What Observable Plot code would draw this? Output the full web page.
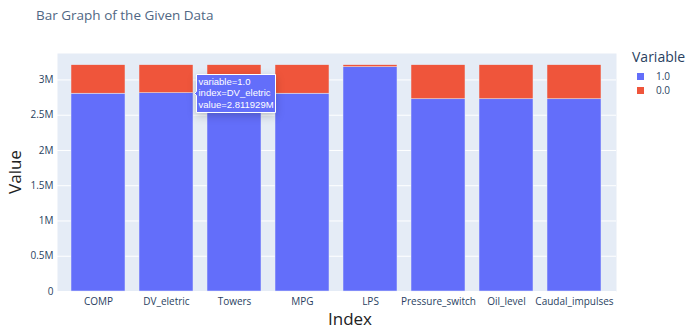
<!DOCTYPE html>
<html>
<head>
<meta charset="utf-8">
<script src="https://cdn.jsdelivr.net/npm/d3@7"></script>
<script src="https://cdn.jsdelivr.net/npm/@observablehq/plot@0.6"></script>
<style>
  html, body { margin: 0; padding: 0; background: #fff; }
  #wrap { position: relative; width: 692px; height: 332px; font-family: "Open Sans", sans-serif; color: #2a3f5f; }
  #wrap svg { position: absolute; left: 0; top: 0; }
  .ov { position: absolute; white-space: nowrap; }
  #title { left: 36px; top: 6px; font-size: 13.5px; color: #506784; }
  #ylab { left: 14px; top: 172px; font-size: 17px; transform: translate(-50%, -50%) rotate(-90deg); color: #222; }
  #xlab { left: 350px; top: 318px; font-size: 17px; transform: translate(-50%, -50%); color: #222; }
  #legend { left: 632px; top: 47px; }
  #legend .lt { font-size: 14px; color: #2a3f5f; margin-bottom: 3px; }
  #legend .it { display: flex; align-items: center; font-size: 10px; height: 14px; margin-left: 5px; }
  #legend .sw { width: 7px; height: 7px; margin-right: 12px; }
  g[aria-label="tip"] text, g[aria-label="tip"] tspan { fill: white; }
</style>
</head>
<body>
<div id="wrap">
  <div id="plot"></div>
  <div class="ov" id="title">Bar Graph of the Given Data</div>
  <div class="ov" id="ylab">Value</div>
  <div class="ov" id="xlab">Index</div>
  <div class="ov" id="legend"></div>
</div>
<script>
const categories = ["COMP", "DV_eletric", "Towers", "MPG", "LPS", "Pressure_switch", "Oil_level", "Caudal_impulses"];
const values1 = [2805000, 2811929, 2810000, 2805000, 3180000, 2726000, 2726000, 2726000];
const values0 = [404000, 397071, 399000, 404000, 29000, 483000, 483000, 483000];
const variables = ["1.0", "0.0"];
const colors = ["#636efa", "#EF553B"];
const yTicks = [0, 500000, 1000000, 1500000, 2000000, 2500000, 3000000];
const yTickLabels = ["0", "0.5M", "1M", "1.5M", "2M", "2.5M", "3M"];
const yMax = 3375000;
const tipVariable = "1.0";
const tipIndex = "DV_eletric";

const rows = [];
categories.forEach((c, i) => {
  rows.push({index: c, variable: variables[0], value: values1[i]});
  rows.push({index: c, variable: variables[1], value: values0[i]});
});
const tipRow = rows.find(r => r.index === tipIndex && r.variable === tipVariable);
const fmtM = v => (v / 1e6).toString() + "M";

const chart = Plot.plot({
  width: 692,
  height: 332,
  marginLeft: 57,
  marginRight: 76,
  marginTop: 53,
  marginBottom: 41,
  style: {fontFamily: "Open Sans, sans-serif", fontSize: "10px", color: "#2a3f5f", background: "transparent"},
  x: {domain: categories, padding: 0.2, label: null},
  y: {domain: [0, yMax], label: null},
  color: {domain: variables, range: colors},
  marks: [
    Plot.frame({fill: "#e5ecf6", stroke: null}),
    Plot.gridY(yTicks, {stroke: "white", strokeOpacity: 1, strokeWidth: 1}),
    Plot.barY(rows, Plot.stackY({x: "index", y: "value", fill: "variable", order: variables, stroke: "#e5ecf6", strokeWidth: 0.5})),
    Plot.axisY(yTicks, {tickSize: 0, tickPadding: 4, tickFormat: (d) => yTickLabels[yTicks.indexOf(d)], label: null, fill: "#2a3f5f"}),
    Plot.axisX({tickSize: 0, tickPadding: 6, label: null, fill: "#2a3f5f"}),
    Plot.tip([tipRow], {
      x: "index", y: "value", dx: 28, anchor: "left",
      title: d => `variable=${d.variable}\nindex=${d.index}\nvalue=${fmtM(d.value)}`,
      fill: "#636efa", stroke: "white", fillOpacity: 1,
      fontFamily: "Liberation Sans, Arial, sans-serif",
      fontSize: 9.5, lineHeight: 1.2, textPadding: 2, pointerSize: 4
    })
  ]
});
document.getElementById("plot").appendChild(chart);

const legend = document.getElementById("legend");
legend.innerHTML = `<div class="lt">Variable</div>` + variables.map((v, i) =>
  `<div class="it"><div class="sw" style="background:${colors[i]}"></div>${v}</div>`).join("");
</script>
</body>
</html>
